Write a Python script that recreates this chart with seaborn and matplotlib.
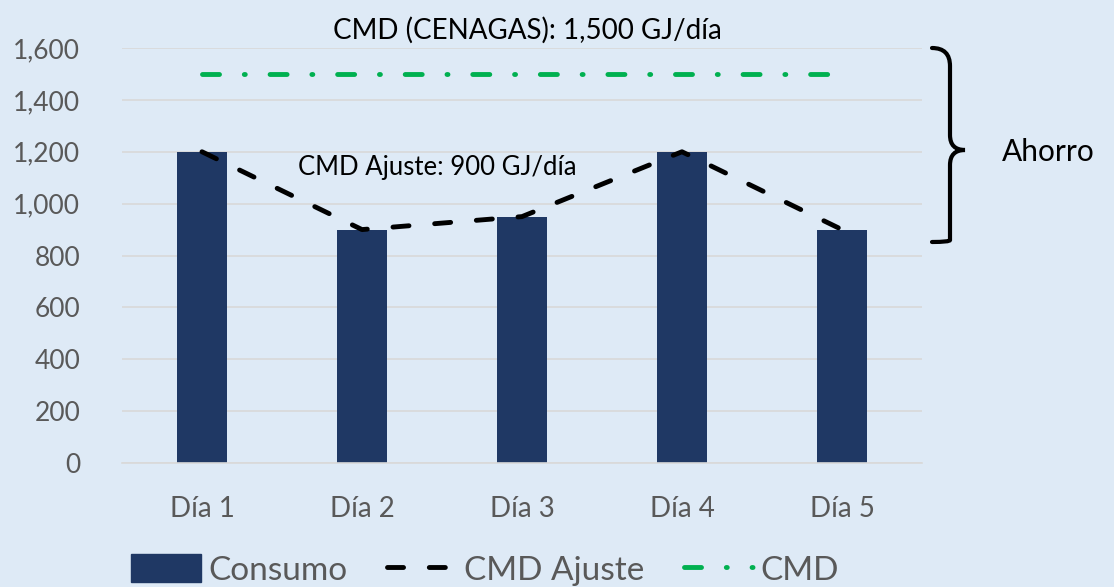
import matplotlib
matplotlib.use("Agg")
import matplotlib.pyplot as plt
import seaborn as sns
import numpy as np
import pandas as pd
from matplotlib.lines import Line2D
from matplotlib.patches import Patch, PathPatch
from matplotlib.path import Path
from matplotlib.ticker import FuncFormatter

days = ["Día 1", "Día 2", "Día 3", "Día 4", "Día 5"]
consumo = [1200, 900, 950, 1200, 900]
cmd_ajuste = [1200, 900, 950, 1200, 900]
cmd = [1500, 1500, 1500, 1500, 1500]
yticks = [0, 200, 400, 600, 800, 1000, 1200, 1400, 1600]

bg = "#DEEAF6"
navy = "#1F3864"
green = "#00B050"
gray = "#595959"

sns.set_theme(style="white")
plt.rcParams['font.family'] = ['Lato', 'DejaVu Sans']

df = pd.DataFrame({"dia": days, "consumo": consumo, "ajuste": cmd_ajuste, "cmd": cmd,
                   "pos": np.arange(len(days))})

black_ls = (0, (3.3, 5.3))
green_ls = (0, (3.5, 5.1, 0.2, 5.1))

fig = plt.figure(figsize=(11.14, 5.87), dpi=100, facecolor=bg)
ax = fig.add_axes([0.1095, 0.2112, 0.7181, 0.7070])
ax.set_facecolor(bg)

sns.barplot(data=df, x="dia", y="consumo", color=navy, width=0.3125, saturation=1, ax=ax,
            zorder=2, linewidth=0)
sns.lineplot(data=df, x="pos", y="ajuste", color="black", lw=3.5, ax=ax, zorder=3,
             linestyle=black_ls, dash_capstyle="round")
sns.lineplot(data=df, x="pos", y="cmd", color=green, lw=3.5, ax=ax, zorder=3,
             linestyle=green_ls, dash_capstyle="round")

ax.set_xlim(-0.5, 4.5)
ax.set_ylim(0, 1600)
ax.set_yticks(yticks)
ax.yaxis.set_major_formatter(FuncFormatter(lambda v, p: f"{int(v):,}"))
ax.grid(axis="y", color="#D9D9D9", lw=1.2, zorder=0)
ax.set_axisbelow(True)
for s in ["top", "right", "left"]:
    ax.spines[s].set_visible(False)
ax.spines["bottom"].set_color("#D9D9D9")
ax.spines["bottom"].set_linewidth(1.2)
ax.tick_params(axis="both", length=0, colors=gray)
ax.tick_params(axis="y", pad=30, labelsize=19)
ax.tick_params(axis="x", pad=24, labelsize=20)
ax.set_xlabel("")
ax.set_ylabel("")

fig.text(527 / 1114, 1 - 30 / 587, "CMD (CENAGAS): 1,500 GJ/día", ha="center", va="center",
         fontsize=20, color="black")
fig.text(437 / 1114, 1 - 168 / 587, "CMD Ajuste: 900 GJ/día", ha="center", va="center",
         fontsize=18.5, color="black")
fig.text(1002 / 1114, 1 - 152 / 587, "Ahorro", ha="left", va="center",
         fontsize=21.5, color="black")

# brace
def px(x, y):
    return (x / 1114, 1 - y / 587)
verts = [px(932, 48), px(950, 48), px(950, 66), px(950, 80),
         px(950, 135), px(950, 150), px(965, 150),
         px(950, 150), px(950, 165), px(950, 222),
         px(950, 240), px(950, 242), px(932, 242)]
codes = [Path.MOVETO, Path.CURVE3, Path.CURVE3, Path.LINETO,
         Path.LINETO, Path.CURVE3, Path.CURVE3,
         Path.CURVE3, Path.CURVE3, Path.LINETO,
         Path.LINETO, Path.CURVE3, Path.CURVE3]
fig.patches.append(PathPatch(Path(verts, codes), transform=fig.transFigure, fill=False,
                             lw=3, edgecolor="black", capstyle="round"))

handles = [Patch(facecolor=navy, edgecolor=navy),
           Line2D([], [], color="black", lw=3.5, linestyle=black_ls, dash_capstyle="round"),
           Line2D([], [], color=green, lw=3.5, linestyle=(0, (3.5, 5.1, 0.2, 5.1, 0.2, 5.1)),
                  dash_capstyle="round")]
leg = fig.legend(handles, ["Consumo", "CMD Ajuste", "CMD"], loc="center left",
                 bbox_to_anchor=(108 / 1114, 1 - 570 / 587), ncol=3, frameon=False,
                 fontsize=24, handlelength=2.1, handleheight=0.9, handletextpad=0.2,
                 columnspacing=1.2, labelcolor=gray, borderpad=0.2)

fig.savefig("out.png", dpi=100, facecolor=bg)
